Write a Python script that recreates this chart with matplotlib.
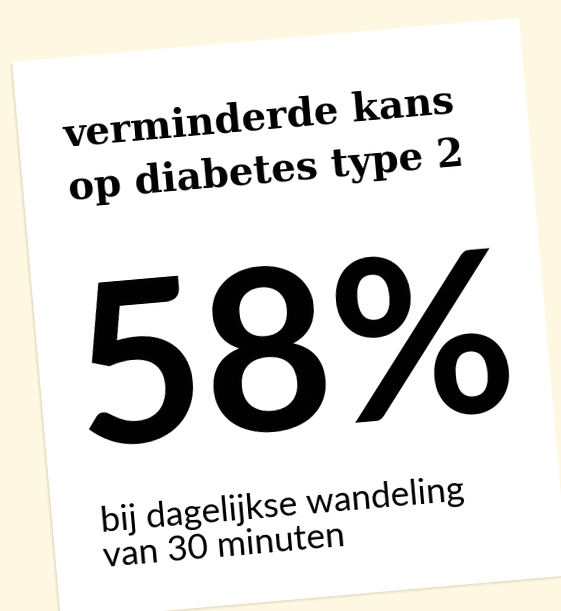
import matplotlib.pyplot as plt
import numpy as np
from matplotlib.patches import Polygon

# content of the card
title_lines = ['verminderde kans', 'op diabetes type 2']
percentage = 58
caption_lines = ['bij dagelijkse wandeling', 'van 30 minuten']

background_color = '#fef7e1'
card_angle = 5.0
card_origin = np.array([12.0, 62.0])
card_width = 509
card_height = 560

angle = np.radians(card_angle)
u = np.array([np.cos(angle), -np.sin(angle)])
v = np.array([np.sin(angle), np.cos(angle)])


def card_point(s, t):
    return card_origin + s * u + t * v


def draw_card():
    corners = [card_point(0, 0), card_point(card_width, 0),
               card_point(card_width, card_height), card_point(0, card_height)]
    # soft shadow
    for k, alpha in zip([6, 4, 2], [0.05, 0.07, 0.09]):
        shadow = Polygon([c + np.array([-k * 0.4, k * 0.5]) for c in corners],
                         closed=True, facecolor='#8a7a50', edgecolor='none', alpha=alpha)
        axes.add_patch(shadow)
    card = Polygon(corners, closed=True, facecolor='white', edgecolor='none')
    axes.add_patch(card)


def card_text(s, t, text, **kwargs):
    x, y = card_point(s, t)
    axes.text(x, y, text, rotation=card_angle, rotation_mode='anchor',
              ha='left', va='baseline', color='black', **kwargs)


if __name__ == '__main__':
    figure = plt.figure(figsize=(5.61, 6.11), dpi=100)
    figure.patch.set_facecolor(background_color)
    axes = figure.add_axes([0, 0, 1, 1])
    axes.set_xlim(0, 561)
    axes.set_ylim(611, 0)
    axes.axis('off')

    draw_card()

    for i, line in enumerate(title_lines):
        card_text(45, 89 + 53 * i, line, fontsize=28, fontweight='bold',
                  family='DejaVu Serif')

    card_text(34, 388, f'{percentage}%', fontsize=161, fontweight='bold',
              family='Lato')

    for i, line in enumerate(caption_lines):
        card_text(48, 476 + 35 * i, line, fontsize=25.5, family='Lato')

    figure.savefig('out.png', dpi=100, facecolor=background_color)
